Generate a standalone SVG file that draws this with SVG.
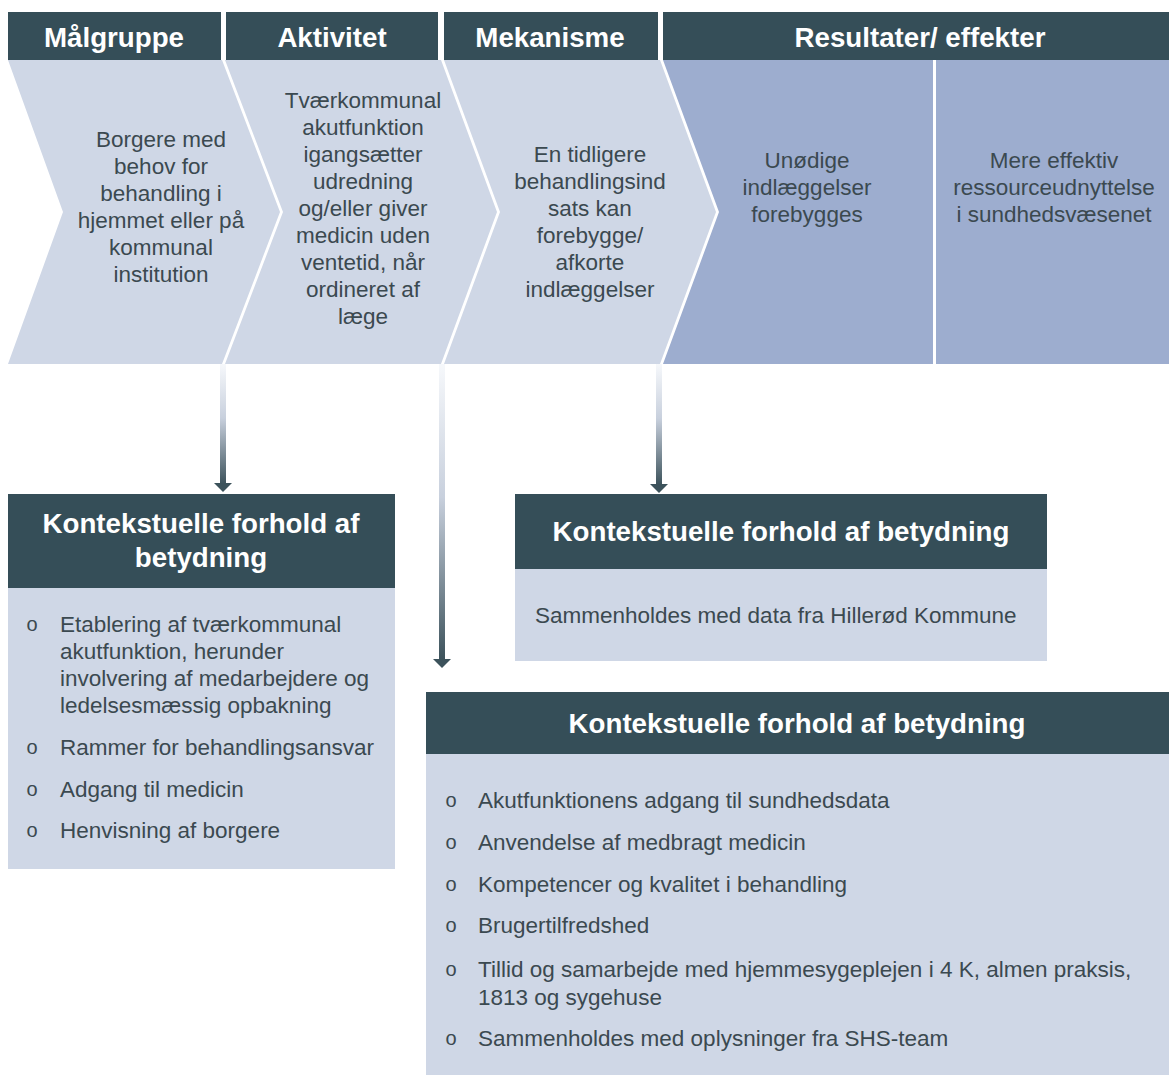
<svg xmlns="http://www.w3.org/2000/svg" width="1169" height="1075" viewBox="0 0 1169 1075">
<defs>
<style>
.hdr{fill:#354E58}
.lt{fill:#CFD7E6}
.dk{fill:#9DADCF}
.ht{font-family:"Liberation Sans",Arial,sans-serif;font-weight:bold;font-size:27.7px;fill:#FFFFFF;text-anchor:middle}
.ct{font-family:"Liberation Sans",Arial,sans-serif;font-size:22.5px;fill:#3B4950;text-anchor:middle}
.bt{font-family:"Liberation Sans",Arial,sans-serif;font-size:22.5px;fill:#3B4950}
.bu{font-family:"Liberation Sans",Arial,sans-serif;font-size:20px;fill:#3B4950;text-anchor:middle}
.head{fill:#3C525B}
</style>
<linearGradient id="ag" x1="0" y1="0" x2="0" y2="1">
<stop offset="0" stop-color="#F6F8FB"/>
<stop offset="0.45" stop-color="#C8D0DD"/>
<stop offset="1" stop-color="#3C525B"/>
</linearGradient>
</defs>
<rect width="1169" height="1075" fill="#FFFFFF"/>

<g id="header-malgruppe">
<rect class="hdr" x="8" y="12" width="213" height="48"/>
<text class="ht" x="114" y="47">Målgruppe</text>
</g>
<g id="header-aktivitet">
<rect class="hdr" x="226" y="12" width="212" height="48"/>
<text class="ht" x="332" y="47">Aktivitet</text>
</g>
<g id="header-mekanisme">
<rect class="hdr" x="444" y="12" width="214" height="48"/>
<text class="ht" x="550" y="47">Mekanisme</text>
</g>
<g id="header-resultater">
<rect class="hdr" x="663" y="12" width="506" height="48"/>
<text class="ht" x="920" y="47">Resultater/ effekter</text>
</g>

<g id="malgruppe">
<polygon class="lt" points="8,60 222,60 280,212 222,364 8,364 63,212"/>
<text class="ct"><tspan x="161" y="147">Borgere med</tspan><tspan x="161" y="174">behov for</tspan><tspan x="161" y="201">behandling i</tspan><tspan x="161" y="228">hjemmet eller på</tspan><tspan x="161" y="255">kommunal</tspan><tspan x="161" y="282">institution</tspan></text>
</g>
<g id="aktivitet">
<polygon class="lt" points="225,60 441,60 497,212 441,364 225,364 283,212"/>
<text class="ct"><tspan x="363" y="108">Tværkommunal</tspan><tspan x="363" y="135">akutfunktion</tspan><tspan x="363" y="162">igangsætter</tspan><tspan x="363" y="189">udredning</tspan><tspan x="363" y="216">og/eller giver</tspan><tspan x="363" y="243">medicin uden</tspan><tspan x="363" y="270">ventetid, når</tspan><tspan x="363" y="297">ordineret af</tspan><tspan x="363" y="324">læge</tspan></text>
</g>
<g id="mekanisme">
<polygon class="lt" points="444,60 660,60 716,212 660,364 444,364 500,212"/>
<text class="ct"><tspan x="590" y="162">En tidligere</tspan><tspan x="590" y="189">behandlingsind</tspan><tspan x="590" y="216">sats kan</tspan><tspan x="590" y="243">forebygge/</tspan><tspan x="590" y="270">afkorte</tspan><tspan x="590" y="297">indlæggelser</tspan></text>
</g>
<g id="resultat-1">
<polygon class="dk" points="663,60 933,60 933,364 663,364 719,212"/>
<text class="ct"><tspan x="807" y="168">Unødige</tspan><tspan x="807" y="195">indlæggelser</tspan><tspan x="807" y="222">forebygges</tspan></text>
</g>
<g id="resultat-2">
<rect class="dk" x="936" y="60" width="233" height="304"/>
<text class="ct"><tspan x="1054" y="168">Mere effektiv</tspan><tspan x="1054" y="195">ressourceudnyttelse</tspan><tspan x="1054" y="222">i sundhedsvæsenet</tspan></text>
</g>

<g id="connectors">
<rect x="220" y="364" width="6" height="120" fill="url(#ag)"/>
<polygon class="head" points="214,483 232,483 223,492"/>
<rect x="439" y="364" width="6" height="296" fill="url(#ag)"/>
<polygon class="head" points="433,659 451,659 442,668"/>
<rect x="656" y="364" width="6" height="121" fill="url(#ag)"/>
<polygon class="head" points="650,484 668,484 659,493"/>
</g>

<g id="kontekst-1">
<rect class="hdr" x="8" y="494" width="387" height="94"/>
<rect class="lt" x="8" y="588" width="387" height="281"/>
<text class="ht"><tspan x="201" y="533">Kontekstuelle forhold af</tspan><tspan x="201" y="567">betydning</tspan></text>
<text class="bu" x="32" y="631">o</text>
<text class="bt"><tspan x="60" y="632">Etablering af tværkommunal</tspan><tspan x="60" y="659">akutfunktion, herunder</tspan><tspan x="60" y="686">involvering af medarbejdere og</tspan><tspan x="60" y="713">ledelsesmæssig opbakning</tspan></text>
<text class="bu" x="32" y="754">o</text>
<text class="bt" x="60" y="755">Rammer for behandlingsansvar</text>
<text class="bu" x="32" y="796">o</text>
<text class="bt" x="60" y="797">Adgang til medicin</text>
<text class="bu" x="32" y="837">o</text>
<text class="bt" x="60" y="838">Henvisning af borgere</text>
</g>

<g id="kontekst-2">
<rect class="hdr" x="515" y="494" width="532" height="75"/>
<rect class="lt" x="515" y="569" width="532" height="92"/>
<text class="ht" x="781" y="541">Kontekstuelle forhold af betydning</text>
<text class="bt" x="535" y="623">Sammenholdes med data fra Hillerød Kommune</text>
</g>

<g id="kontekst-3">
<rect class="hdr" x="426" y="692" width="743" height="62"/>
<rect class="lt" x="426" y="754" width="743" height="321"/>
<text class="ht" x="797" y="733">Kontekstuelle forhold af betydning</text>
<text class="bu" x="451" y="807">o</text>
<text class="bt" x="478" y="808">Akutfunktionens adgang til sundhedsdata</text>
<text class="bu" x="451" y="849">o</text>
<text class="bt" x="478" y="850">Anvendelse af medbragt medicin</text>
<text class="bu" x="451" y="891">o</text>
<text class="bt" x="478" y="892">Kompetencer og kvalitet i behandling</text>
<text class="bu" x="451" y="932">o</text>
<text class="bt" x="478" y="933">Brugertilfredshed</text>
<text class="bu" x="451" y="976">o</text>
<text class="bt"><tspan x="478" y="977">Tillid og samarbejde med hjemmesygeplejen i 4 K, almen praksis,</tspan><tspan x="478" y="1005">1813 og sygehuse</tspan></text>
<text class="bu" x="451" y="1045">o</text>
<text class="bt" x="478" y="1046">Sammenholdes med oplysninger fra SHS-team</text>
</g>
</svg>
